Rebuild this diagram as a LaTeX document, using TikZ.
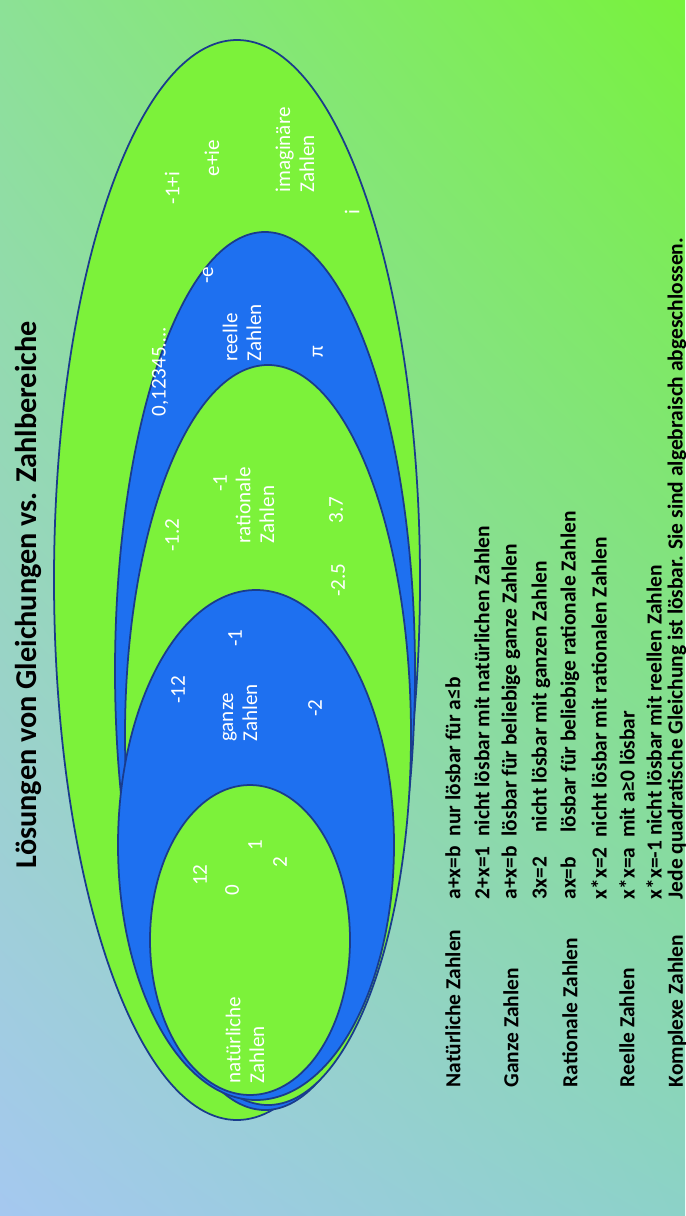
\documentclass[tikz,border=0pt]{standalone}
\usepackage{fontspec}
\setmainfont{Carlito}
\usetikzlibrary{shadings}
\begin{document}
\begin{tikzpicture}[x=0.01cm,y=-0.01cm,
  gr/.style={fill=zgreen,draw=zline,line width=0.5pt},
  bl/.style={fill=zblue,draw=zline,line width=0.5pt},
  lab/.style={rotate=90,text=white,font=\fontsize{6}{6.8}\selectfont,align=left,inner sep=0pt},
  lst/.style={rotate=90,anchor=west,font=\bfseries\fontsize{6.1}{7}\selectfont,inner sep=0pt}]
\definecolor{zgreen}{HTML}{7CF23A}
\definecolor{zblue}{HTML}{1E70F0}
\definecolor{zline}{HTML}{1A3C8C}
\definecolor{bgul}{RGB}{140,225,150}
\definecolor{bgur}{RGB}{120,242,60}
\definecolor{bgll}{RGB}{165,200,240}
\definecolor{bglr}{RGB}{140,210,200}
\useasboundingbox (0,0) rectangle (685,1216);
\shade[upper left=bgul,upper right=bgur,lower left=bgll,lower right=bglr] (0,0) rectangle (685,1216);
\draw[gr] (237,580) ellipse [x radius=183,y radius=540];
\draw[bl] (265,671) ellipse [x radius=150,y radius=439];
\draw[gr] (268,735) ellipse [x radius=143,y radius=370];
\draw[bl] (256,845) ellipse [x radius=138,y radius=255];
\draw[gr] (250,940) ellipse [x radius=100,y radius=155];
\node[rotate=90,font=\bfseries\fontsize{8.6}{10}\selectfont] (title) at (28,595) {Lösungen von Gleichungen vs. Zahlbereiche};
\node[lab] (n1) at (245,1040) {natürliche\\Zahlen};
\node[lab] (n2) at (232,890) {0};
\node[lab] (n3) at (200,875) {12};
\node[lab] (n4) at (255,845) {1};
\node[lab] (n5) at (280,862) {2};
\node[lab] (g1) at (240,713) {ganze\\Zahlen};
\node[lab] (g2) at (178,690) {-12};
\node[lab] (g3) at (235,638) {-1};
\node[lab] (g4) at (315,708) {-2};
\node[lab] (r1) at (255,505) {rationale\\Zahlen};
\node[lab] (r2) at (172,535) {-1.2};
\node[lab] (r3) at (220,483) {-1};
\node[lab] (r4) at (338,580) {-2.5};
\node[lab] (r5) at (336,510) {3.7};
\node[lab] (e1) at (160,372) {0,12345….};
\node[lab] (e2) at (242,333) {reelle\\Zahlen};
\node[lab] (e3) at (318,352) {π};
\node[lab] (e4) at (208,275) {-e};
\node[lab] (c1) at (172,188) {-1+i};
\node[lab] (c2) at (212,158) {e+ie};
\node[lab] (c3) at (295,150) {imaginäre\\Zahlen};
\node[lab] (c4) at (352,212) {i};
\node[lst] (l1) at (453,1088) {Natürliche Zahlen};
\node[lst] (l2) at (511,1088) {Ganze Zahlen};
\node[lst] (l3) at (570,1088) {Rationale Zahlen};
\node[lst] (l4) at (627,1088) {Reelle Zahlen};
\node[lst] (l5) at (677,1088) {Komplexe Zahlen};
\node[lst] (t1) at (453,900) {a+x=b\ \ nur lösbar für a≤b};
\node[lst] (t2) at (482,900) {2+x=1\ \ nicht lösbar mit natürlichen Zahlen};
\node[lst] (t3) at (511,900) {a+x=b\ \ lösbar für beliebige ganze Zahlen};
\node[lst] (t4) at (541,900) {3x=2\ \ \ \ \ nicht lösbar mit ganzen Zahlen};
\node[lst] (t5) at (570,900) {ax=b\ \ \ \ \ lösbar für beliebige rationale Zahlen};
\node[lst] (t6) at (599,900) {x*x=2\ \ nicht lösbar mit rationalen Zahlen};
\node[lst] (t7) at (627,900) {x*x=a\ \ mit a≥0 lösbar};
\node[lst] (t8) at (654,900) {x*x=-1 nicht lösbar mit reellen Zahlen};
\node[lst] (t9) at (677,900) {Jede quadratische Gleichung ist lösbar. Sie sind algebraisch abgeschlossen.};
\end{tikzpicture}
\end{document}
